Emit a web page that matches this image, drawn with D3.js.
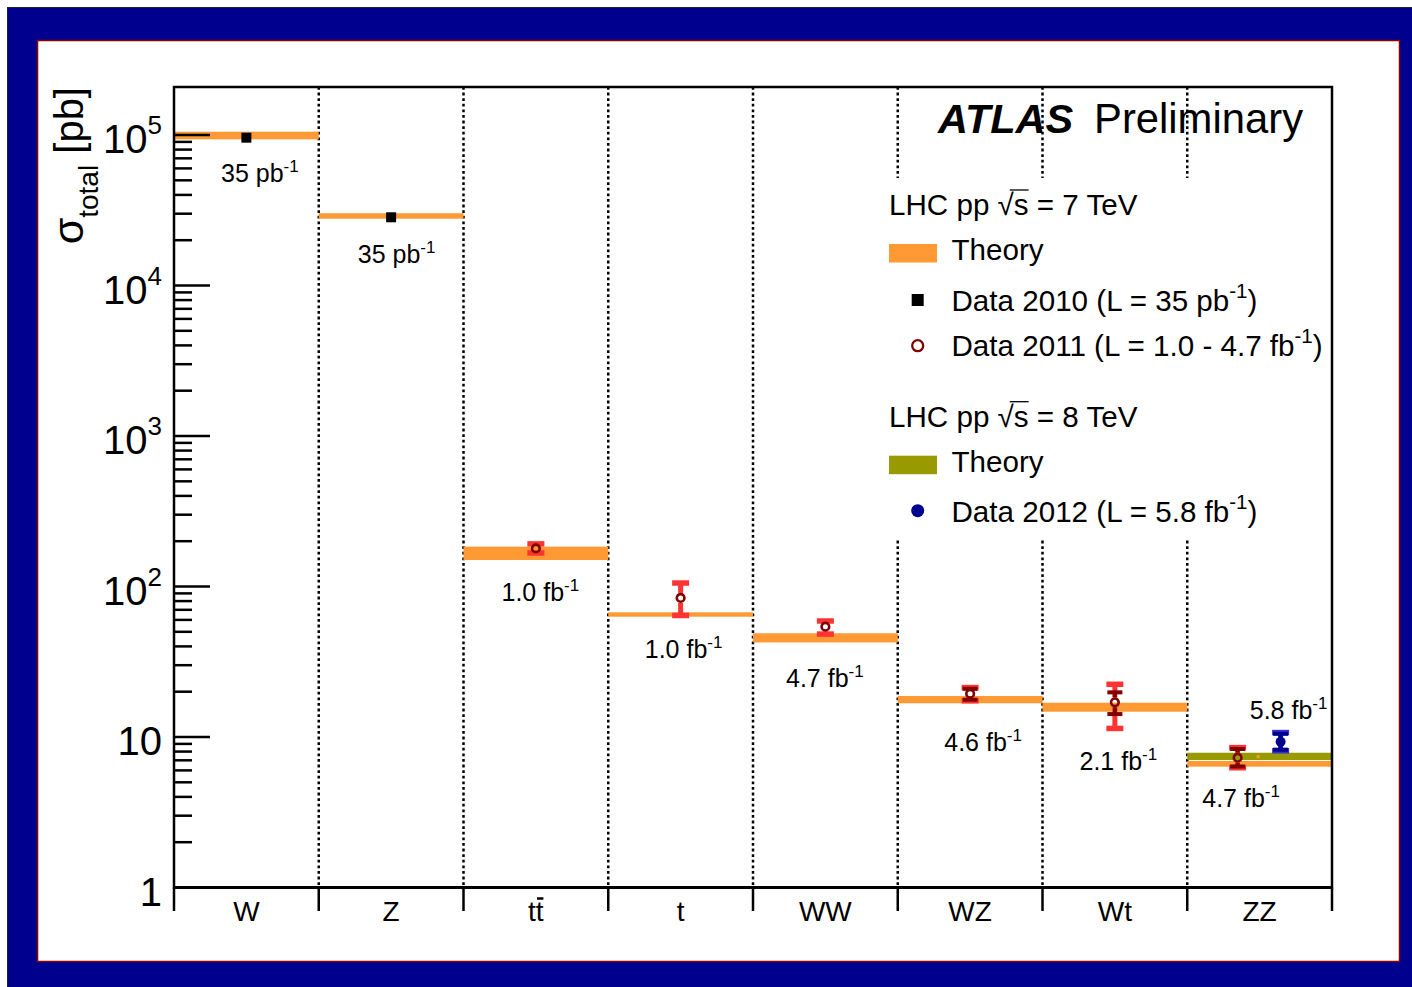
<!DOCTYPE html>
<html><head><meta charset="utf-8">
<script src="https://cdn.jsdelivr.net/npm/d3@7"></script>
<style>
body{margin:0;background:#fff}
svg{display:block}
text{font-family:"Liberation Sans",Arial,Helvetica,sans-serif;fill:#000}
</style>
</head><body>
<svg id="c" width="1412" height="987"></svg>
<script>
// ---------------- DATA ----------------
const categories = ["W", "Z", "tt\u0304", "t", "WW", "WZ", "Wt", "ZZ"];

// Theory, sqrt(s) = 7 TeV (band low / high / central, pb)
const theory7Lo      = [9.36e4, 2.78e4, 150, 63.0, 42.5, 16.75, 14.73, 6.35];
const theory7Hi      = [1.052e5, 3.02e4, 184, 67.4, 48.9, 18.73, 16.9, 6.93];
const theory7Central = [9.9e4, 2.9e4, 167, 65.0, 45.6, 17.7, 15.8, 6.64];

// Theory, sqrt(s) = 8 TeV
const theory8 = [{cat: "ZZ", lo: 7.03, hi: 7.86, central: 7.4}];

// Data 2010 (L = 35 pb-1)
const data2010 = [
  {cat: "W", value: 9.6e4},
  {cat: "Z", value: 2.84e4}
];

// Data 2011 (L = 1.0 - 4.7 fb-1): value, total (outer) and stat (inner) ranges
const data2011 = [
  {cat: "tt\u0304", value: 179,  totLo: 167,  totHi: 192,  statLo: null, statHi: null},
  {cat: "t",        value: 84,   totLo: 64.2, totHi: 105.5, statLo: null, statHi: null},
  {cat: "WW",       value: 54.1, totLo: 48.3, totHi: 59.0, statLo: null, statHi: null},
  {cat: "WZ",       value: 19.4, totLo: 17.4, totHi: 21.3, statLo: 17.7, statHi: 20.9},
  {cat: "Wt",       value: 17.0, totLo: 11.4, totHi: 22.4, statLo: 14.2, statHi: 19.8},
  {cat: "ZZ",       value: 7.29, totLo: 6.25, totHi: 8.5,  statLo: 6.37, statHi: 8.32}
];

// Data 2012 (L = 5.8 fb-1)
const data2012 = [
  {cat: "ZZ", value: 9.31, totLo: 8.1, totHi: 10.7, statLo: 8.24, statHi: 10.5}
];

// Integrated-luminosity annotations
const lumiLabels = [
  {cat: "W",        text: "35 pb",  sup: "-1"},
  {cat: "Z",        text: "35 pb",  sup: "-1"},
  {cat: "tt\u0304", text: "1.0 fb", sup: "-1"},
  {cat: "t",        text: "1.0 fb", sup: "-1"},
  {cat: "WW",       text: "4.7 fb", sup: "-1"},
  {cat: "WZ",       text: "4.6 fb", sup: "-1"},
  {cat: "Wt",       text: "2.1 fb", sup: "-1"},
  {cat: "ZZ",       text: "4.7 fb", sup: "-1"},
  {cat: "ZZ",       text: "5.8 fb", sup: "-1"}
];

const yTickExponents = [0, 1, 2, 3, 4, 5];

// ---------------- LAYOUT / STYLE ----------------
const W = 1412, H = 987;
const M = {left: 174, right: 1332, top: 87, bottom: 887.5};
const COL = {
  frameBlue: "#00008f", frameRed: "#8b0000",
  orange: "#ff9933", olive: "#999900",
  red: "#ff3333", darkRed: "#800000",
  blue: "#3333cc", navy: "#000090"
};
// label placement: [dx from bin left edge, dy from reference]
const lumiLayout = [
  {dx: 47, ref: "band", dy: 43},
  {dx: 39, ref: "band", dy: 44.5},
  {dx: 38, ref: "band", dy: 41},
  {dx: 36.5, ref: "band", dy: 41.5},
  {dx: 33, ref: "band", dy: 44.5},
  {dx: 46.5, ref: "band", dy: 47.5},
  {dx: 37, ref: "band", dy: 58},
  {dx: 15, ref: "band", dy: 40},
  {dx: 62.5, ref: "data2012", dy: -13.5}
];
const pointShift = {"2011-ZZ": -0.152, "2012-ZZ": 0.145};
const LEG_FONT = 29.6, LEG_SUP = 20.5;

const svg = d3.select("#c");

// ---------------- CANVAS FRAME ----------------
svg.append("rect").attr("x", 7).attr("y", 7).attr("width", W - 7).attr("height", H - 7).attr("fill", COL.frameBlue);
svg.append("path").attr("d", "M7.5,987V7.5H1412").attr("stroke", "#222").attr("stroke-width", 1).attr("fill", "none");
svg.append("rect").attr("x", 37.5).attr("y", 40.5).attr("width", 1362).attr("height", 921)
  .attr("fill", "#fff").attr("stroke", COL.frameRed).attr("stroke-width", 1.5);

// ---------------- SCALES ----------------
const x = d3.scaleBand().domain(categories).range([M.left, M.right]).padding(0);
const bw = x.bandwidth();
const y = d3.scaleLog().domain([1, Math.pow(10, 5.319)]).range([M.bottom, M.top]);
const cx = c => x(c) + bw / 2;

// ---------------- DOTTED SEPARATORS ----------------
const bounds = categories.map(c => x(c)).concat([M.right]);
svg.append("g").selectAll("line").data(bounds.slice(1, -1)).join("line")
  .attr("x1", d => d).attr("x2", d => d)
  .attr("y1", M.top).attr("y2", M.bottom)
  .attr("stroke", "#000").attr("stroke-width", 2.5).attr("stroke-dasharray", "2.8,2.8");

// legend background (white box hides separators)
svg.append("rect").attr("x", 876).attr("y", 178).attr("width", M.right - 2 - 876).attr("height", 362).attr("fill", "#fff");

// ---------------- THEORY BANDS ----------------
const gB = svg.append("g");
categories.forEach((c, i) => {
  gB.append("rect").attr("x", x(c)).attr("width", bw)
    .attr("y", y(theory7Hi[i])).attr("height", y(theory7Lo[i]) - y(theory7Hi[i]))
    .attr("fill", COL.orange);
});
theory8.forEach(d => {
  gB.append("rect").attr("x", x(d.cat)).attr("width", bw)
    .attr("y", y(d.hi)).attr("height", y(d.lo) - y(d.hi)).attr("fill", COL.olive);
});
// theory central markers (only visible on the olive band)
categories.forEach((c, i) => {
  gB.append("rect").attr("x", cx(c) - 1.5).attr("y", y(theory7Central[i]) - 1.5).attr("width", 3).attr("height", 3).attr("fill", COL.orange);
});
theory8.forEach(d => {
  gB.append("rect").attr("x", cx(d.cat) - 3).attr("y", y(d.central) - 1.5).attr("width", 3).attr("height", 3).attr("fill", COL.orange);
});

// ---------------- ERROR BARS ----------------
function errBar(g, px, v, lo, hi, color, capW, capH, lw, gap) {
  const yv = y(v);
  if (hi != null) {
    const yh = y(hi);
    if (yh < yv - gap) g.append("line").attr("x1", px).attr("x2", px).attr("y1", yv - gap).attr("y2", yh)
      .attr("stroke", color).attr("stroke-width", lw);
    g.append("rect").attr("x", px - capW / 2).attr("y", yh - capH / 2).attr("width", capW).attr("height", capH).attr("fill", color);
  }
  if (lo != null) {
    const yl = y(lo);
    if (yl > yv + gap) g.append("line").attr("x1", px).attr("x2", px).attr("y1", yv + gap).attr("y2", yl)
      .attr("stroke", color).attr("stroke-width", lw);
    g.append("rect").attr("x", px - capW / 2).attr("y", yl - capH / 2).attr("width", capW).attr("height", capH).attr("fill", color);
  }
}

const gD = svg.append("g");
// 2010
data2010.forEach(d => {
  gD.append("rect").attr("x", cx(d.cat) - 5).attr("y", y(d.value) - 5).attr("width", 10).attr("height", 10).attr("fill", "#000");
});
// 2011
data2011.forEach(d => {
  const px = cx(d.cat) + (pointShift["2011-" + d.cat] || 0) * bw;
  errBar(gD, px, d.value, d.totLo, d.totHi, COL.red, 17, 5.5, 5, 5);
  errBar(gD, px, d.value, d.statLo, d.statHi, COL.darkRed, 15, 4, 4, 5);
  gD.append("circle").attr("cx", px).attr("cy", y(d.value)).attr("r", 3.8)
    .attr("fill", "none").attr("stroke", COL.darkRed).attr("stroke-width", 2.6);
});
// 2012
data2012.forEach(d => {
  const px = cx(d.cat) + (pointShift["2012-" + d.cat] || 0) * bw;
  errBar(gD, px, d.value, d.totLo, d.totHi, COL.blue, 17, 5.5, 5, 4);
  errBar(gD, px, d.value, d.statLo, d.statHi, COL.navy, 15, 4, 4, 4);
  gD.append("circle").attr("cx", px).attr("cy", y(d.value)).attr("r", 5).attr("fill", COL.navy);
});

// ---------------- LUMI LABELS ----------------
function rich(g, px, py, main, sup, size, supSize, raise, tail) {
  const t = g.append("text").attr("x", px).attr("y", py).attr("font-size", size);
  t.append("tspan").text(main);
  if (sup) t.append("tspan").attr("font-size", supSize).attr("dy", -raise).text(sup);
  if (tail) t.append("tspan").attr("dy", raise).text(tail);
  return t;
}
const gL = svg.append("g");
lumiLabels.forEach((d, i) => {
  const L = lumiLayout[i];
  const ci = categories.indexOf(d.cat);
  let ref;
  if (L.ref === "band") ref = y(theory7Lo[ci]);
  else ref = y(data2012[0].totHi);
  rich(gL, x(d.cat) + L.dx, ref + L.dy, d.text, d.sup, 25, 17, 10);
});

// ---------------- AXES ----------------
const gA = svg.append("g").attr("stroke", "#000");
yTickExponents.forEach(e => {
  const v = Math.pow(10, e);
  gA.append("line").attr("x1", M.left).attr("x2", M.left + 36).attr("y1", y(v)).attr("y2", y(v)).attr("stroke-width", 2.5);
  if (e < 5) for (let k = 2; k <= 9; k++) {
    const yy = y(k * v);
    gA.append("line").attr("x1", M.left).attr("x2", M.left + 18).attr("y1", yy).attr("y2", yy).attr("stroke-width", 2.5);
  }
});
gA.append("rect").attr("x", M.left).attr("y", M.top).attr("width", M.right - M.left).attr("height", M.bottom - M.top)
  .attr("fill", "none").attr("stroke-width", 2.5);
gA.append("line").attr("x1", M.left).attr("x2", M.right).attr("y1", M.bottom).attr("y2", M.bottom).attr("stroke-width", 3);
bounds.forEach(b => {
  gA.append("line").attr("x1", b).attr("x2", b).attr("y1", M.bottom).attr("y2", 911).attr("stroke-width", 2.5);
});

// y tick labels
const gT = svg.append("g");
yTickExponents.forEach(e => {
  const t = gT.append("text").attr("x", 162).attr("y", y(Math.pow(10, e)) + 18)
    .attr("text-anchor", "end").attr("font-size", 40);
  if (e === 0) t.text("1");
  else if (e === 1) t.text("10");
  else {
    t.append("tspan").text("10");
    t.append("tspan").attr("font-size", 26).attr("dy", -19).text(String(e));
  }
});

// x tick labels
categories.forEach(c => {
  const hasBar = c.indexOf("\u0304") >= 0;
  const label = c.replace("\u0304", "");
  const t = gT.append("text").attr("x", cx(c)).attr("y", 921).attr("text-anchor", "middle").attr("font-size", 28).text(label);
  if (hasBar) {
    const bb = t.node().getBBox();
    const x0 = bb.x + bb.width / 2 + 1, x1 = bb.x + bb.width - 0.5;
    gT.append("line").attr("x1", x0).attr("x2", x1)
      .attr("y1", 898.5).attr("y2", 898.5).attr("stroke", "#000").attr("stroke-width", 2.5);
  }
});

// y axis title
const yt = gT.append("text").attr("transform", "translate(83,87) rotate(-90)")
  .attr("text-anchor", "end").attr("font-size", 40);
yt.append("tspan").attr("font-size", 43).text("\u03c3");
yt.append("tspan").attr("font-size", 28).attr("dy", 15).text("total");
yt.append("tspan").attr("dy", -15).text(" [pb]");

// ---------------- ATLAS LABEL ----------------
gT.append("text").attr("x", 938).attr("y", 133).attr("font-size", 41.5).attr("font-weight", "bold")
  .attr("font-style", "italic").text("ATLAS");
gT.append("text").attr("x", 1094).attr("y", 133).attr("font-size", 41.8).text("Preliminary");

// ---------------- LEGEND ----------------
const legendRows = [
  {kind: "header", text: "LHC pp \u221as = 7 TeV", base: 215},
  {kind: "box", color: COL.orange, text: "Theory", base: 260},
  {kind: "square", text: "Data 2010 (L = 35 pb", sup: "-1", tail: ")", base: 310.7},
  {kind: "ring", text: "Data 2011 (L = 1.0 - 4.7 fb", sup: "-1", tail: ")", base: 356},
  {kind: "header", text: "LHC pp \u221as = 8 TeV", base: 426.7},
  {kind: "box", color: COL.olive, text: "Theory", base: 471.7},
  {kind: "dot", text: "Data 2012 (L = 5.8 fb", sup: "-1", tail: ")", base: 521.7}
];
const gLeg = svg.append("g");
legendRows.forEach(r => {
  if (r.kind === "header") {
    const t = gLeg.append("text").attr("x", 889).attr("y", r.base).attr("font-size", LEG_FONT).text(r.text);
    const si = r.text.indexOf("\u221a");
    const e1 = t.node().getExtentOfChar(si);
    const e2 = t.node().getExtentOfChar(si + 1);
    gLeg.append("line").attr("x1", e1.x + e1.width * 0.75).attr("x2", e2.x + e2.width)
      .attr("y1", r.base - 25).attr("y2", r.base - 25).attr("stroke", "#000").attr("stroke-width", 1.3);
    return;
  }
  if (r.kind === "box") {
    gLeg.append("rect").attr("x", 889).attr("y", r.base - 16).attr("width", 48).attr("height", 18.5).attr("fill", r.color);
  } else if (r.kind === "square") {
    gLeg.append("rect").attr("x", 917.7 - 6).attr("y", r.base - 10.7 - 6).attr("width", 12).attr("height", 12).attr("fill", "#000");
  } else if (r.kind === "ring") {
    gLeg.append("circle").attr("cx", 917.7).attr("cy", r.base - 10.3).attr("r", 5.5)
      .attr("fill", "none").attr("stroke", COL.darkRed).attr("stroke-width", 2.3);
  } else if (r.kind === "dot") {
    gLeg.append("circle").attr("cx", 917.7).attr("cy", r.base - 11).attr("r", 6.5).attr("fill", COL.navy);
  }
  rich(gLeg, 951.5, r.base, r.text, r.sup, LEG_FONT, LEG_SUP, 13, r.tail);
});
</script>
</body></html>
